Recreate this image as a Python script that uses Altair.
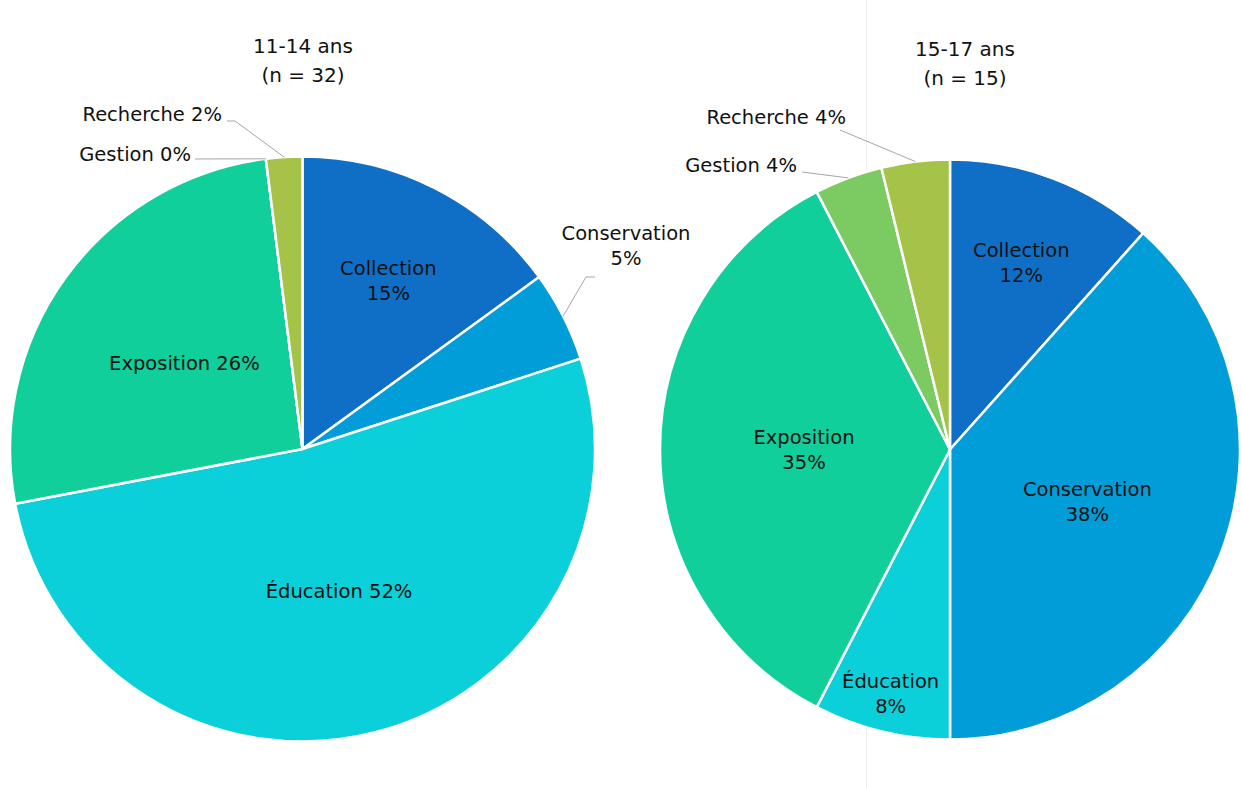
import altair as alt
import pandas as pd

# ---------------- data ----------------
categories = ["Collection", "Conservation", "Éducation", "Exposition", "Gestion", "Recherche"]
colors = ["#0F6FC6", "#009DD9", "#0BD0D9", "#10CF9B", "#7CCA62", "#A5C249"]
left_values = [15, 5, 52, 26, 0, 2]
right_values = [11.6, 38.4, 7.6, 34.8, 3.8, 3.8]
group_names = ["11-14 ans", "15-17 ans"]
group_n = [32, 15]

rows = []
for pie, vals in zip(["L", "R"], [left_values, right_values]):
    for i, (c, v) in enumerate(zip(categories, vals)):
        rows.append({"pie": pie, "cat": c, "idx": i, "value": v})
df = pd.DataFrame(rows)

# ---------------- layout / style ----------------
FONT = "DejaVu Sans"
FS = 19.5
LH = 25
TXT = "#111111"
geom = {"L": (302.5, 449, 292.5), "R": (950, 449.5, 290)}
title_pos = {"L": (303, 47), "R": (965, 50)}

# inside labels: radius and separator
inside = {
    "L": {"Collection": (189, "\n"), "Éducation": (147, " "), "Exposition": (146, " ")},
    "R": {"Collection": (200, "\n"), "Conservation": (147, "\n"), "Éducation": (251, "\n"), "Exposition": (146, "\n")},
}
# outside labels: (text x, text y, align, separator, elbow x, elbow y, line end x)
outside = {
    "L": {"Conservation": (626, 245, "center", "\n", 586, 277, 595),
          "Gestion": (191, 154, "right", " ", 195, 159, 195),
          "Recherche": (222, 114, "right", " ", 235, 121, 227)},
    "R": {"Recherche": (846, 117, "right", " ", 840, 130, 840),
          "Gestion": (797, 165, "right", " ", 802, 172, 802)},
}


def label_expr(sep):
    s = sep.replace("\n", "\\n")
    return f"datum.cat + '{s}' + round(datum.value) + '%'"


def shift(sep):
    return -LH / 2 if sep == "\n" else 0


theta_scale = alt.Scale(domain=[0, 1], range=[0, 6.283185307179586])
color_scale = alt.Scale(domain=categories, range=colors)

layers = []

# faint frame line between the two charts
layers.append(
    alt.Chart(pd.DataFrame({"k": [0]})).mark_rule(color="#EFEFEF", strokeWidth=1).encode(
        x=alt.value(866.5), y=alt.value(0), y2=alt.value(789))
)

for pie in ["L", "R"]:
    cx, cy, R = geom[pie]
    base = (
        alt.Chart(df)
        .transform_filter(alt.datum.pie == pie)
        .transform_joinaggregate(total="sum(value)")
        .transform_calculate(frac="datum.value / datum.total")
        .transform_window(end="sum(frac)", sort=[alt.SortField("idx")], frame=[None, 0])
        .transform_calculate(start="datum.end - datum.frac", mid="datum.end - datum.frac / 2")
    )
    layers.append(
        base.mark_arc(radius=R, stroke="white", strokeWidth=2.5).encode(
            theta=alt.Theta("start:Q", scale=theta_scale),
            theta2="end:Q",
            color=alt.Color("cat:N", scale=color_scale, legend=None),
            x=alt.value(cx), y=alt.value(cy),
        )
    )
    for cat, (lr, sep) in inside[pie].items():
        layers.append(
            base.transform_filter(alt.datum.cat == cat)
            .transform_calculate(label=label_expr(sep))
            .mark_text(radius=lr, font=FONT, fontSize=FS, color=TXT, lineBreak="\n",
                       lineHeight=LH, align="center", baseline="middle", dy=shift(sep) + 1)
            .encode(theta=alt.Theta("mid:Q", scale=theta_scale), text="label:N",
                    x=alt.value(cx), y=alt.value(cy))
        )
    for cat, (tx, ty, al, sep, ex, ey, lx) in outside[pie].items():
        ob = base.transform_filter(alt.datum.cat == cat)
        layers.append(
            ob.transform_calculate(label=label_expr(sep))
            .mark_text(font=FONT, fontSize=FS, color=TXT, lineBreak="\n", lineHeight=LH,
                       align=al, baseline="middle", dy=shift(sep) + 1)
            .encode(text="label:N", x=alt.value(tx), y=alt.value(ty))
        )
        layers.append(
            ob.transform_calculate(
                px=f"{cx} + {R} * sin(2 * PI * datum.mid)",
                py=f"{cy} - {R} * cos(2 * PI * datum.mid)",
                qx=f"{ex}", qy=f"{ey}",
            )
            .mark_rule(color="#A6A6A6", strokeWidth=1)
            .encode(x=alt.X("px:Q", scale=None, axis=None), y=alt.Y("py:Q", scale=None, axis=None),
                    x2="qx:Q", y2="qy:Q")
        )
        if lx != ex:
            layers.append(
                alt.Chart(pd.DataFrame({"k": [0]})).mark_rule(color="#A6A6A6", strokeWidth=1).encode(
                    x=alt.value(ex), x2=alt.value(lx), y=alt.value(ey), y2=alt.value(ey))
            )

# titles
for pie, name, n in zip(["L", "R"], group_names, group_n):
    tx, ty = title_pos[pie]
    layers.append(
        alt.Chart(pd.DataFrame({"t": [f"{name}\n(n = {n})"]}))
        .mark_text(font=FONT, fontSize=20, color=TXT, lineBreak="\n", lineHeight=29,
                   align="center", baseline="middle")
        .encode(text="t:N", x=alt.value(tx), y=alt.value(ty))
    )

chart = (
    alt.layer(*layers)
    .properties(width=1242, height=789, autosize=alt.AutoSizeParams(type="none"), padding=0,
                background="white")
    .configure_view(stroke=None)
)

chart.save("out.html", embed_options={"renderer": "svg", "actions": False})
